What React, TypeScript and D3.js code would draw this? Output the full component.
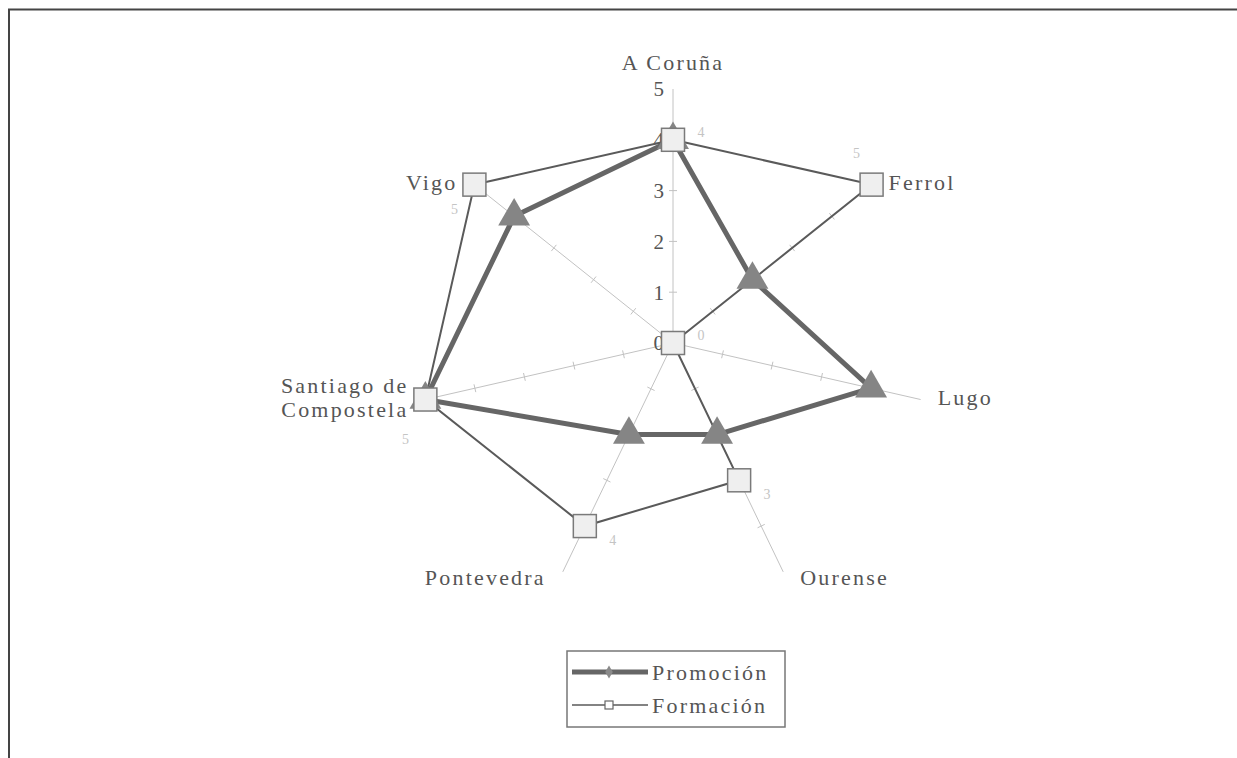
import React, { useEffect, useRef } from 'react';
import * as d3 from 'd3';

const cities = ['A Coruña', 'Ferrol', 'Lugo', 'Ourense', 'Pontevedra', 'Santiago de Compostela', 'Vigo'];
const promocion = [4, 2, 4, 2, 2, 5, 4];
const formacion = [4, 5, 0, 3, 4, 5, 5];
const ticks = [0, 1, 2, 3, 4, 5];
const seriesNames = ['Promoción', 'Formación'];

export default function App() {
  const svgRef = useRef<SVGSVGElement>(null);

  useEffect(() => {
    document.body.style.margin = '0';
    const width = 1237;
    const height = 758;
    const cx = 673;
    const cy = 343;
    const font = '"Liberation Serif", serif';

    const svg = d3.select(svgRef.current);
    svg.selectAll('*').remove();
    svg.attr('width', width).attr('height', height);

    svg.append('rect').attr('width', width).attr('height', height).attr('fill', '#fff');

    // frame: top and left edges only
    svg.append('line').attr('x1', 8).attr('x2', width).attr('y1', 9.5).attr('y2', 9.5)
      .attr('stroke', '#444').attr('stroke-width', 2);
    svg.append('line').attr('x1', 9).attr('x2', 9).attr('y1', 9).attr('y2', height)
      .attr('stroke', '#444').attr('stroke-width', 2);

    const r = d3.scaleLinear().domain([0, 5]).range([0, 254]);
    const step = (2 * Math.PI) / cities.length;
    const px = (i: number, v: number) => r(v) * Math.sin(i * step);
    const py = (i: number, v: number) => -r(v) * Math.cos(i * step);

    const g = svg.append('g').attr('transform', `translate(${cx},${cy})`);

    // axes
    cities.forEach((c, i) => {
      g.append('line')
        .attr('x1', 0).attr('y1', 0)
        .attr('x2', px(i, 5)).attr('y2', py(i, 5))
        .attr('stroke', '#c2c2c2').attr('stroke-width', 1);
      const a = i * step;
      ticks.slice(1, -1).forEach(t => {
        const x = px(i, t), y = py(i, t);
        const nx = Math.cos(a) * 4, ny = Math.sin(a) * 4;
        g.append('line')
          .attr('x1', x - nx).attr('y1', y - ny)
          .attr('x2', x + nx).attr('y2', y + ny)
          .attr('stroke', '#c2c2c2').attr('stroke-width', 1);
      });
    });

    // tick labels on first axis
    g.selectAll('.tick-label')
      .data(ticks)
      .enter()
      .append('text')
      .attr('class', 'tick-label')
      .attr('x', -9)
      .attr('y', d => -r(d))
      .attr('dy', '0.35em')
      .attr('text-anchor', 'end')
      .attr('font-family', font)
      .attr('font-size', 21)
      .attr('fill', '#555')
      .text(d => d);

    // city labels
    cities.forEach((c, i) => {
      const x = px(i, 5), y = py(i, 5);
      const t = g.append('text')
        .attr('font-family', font)
        .attr('font-size', 22)
        .attr('letter-spacing', 2.2)
        .attr('fill', '#555');
      if (i === 0) {
        t.attr('x', x).attr('y', y - 27).attr('text-anchor', 'middle').attr('dy', '0.35em').text(c);
        return;
      }
      const right = x > 0;
      const lx = x + (right ? 17 : -17);
      const ly = y + (y > 100 ? 5 : -2);
      t.attr('text-anchor', right ? 'start' : 'end');
      if (c.includes(' de ')) {
        const parts = c.split(' de ');
        t.append('tspan').attr('x', lx).attr('y', ly - 12).attr('dy', '0.35em').text(parts[0] + ' de');
        t.append('tspan').attr('x', lx).attr('y', ly + 12).attr('dy', '0.35em').text(parts[1]);
      } else {
        t.attr('x', lx).attr('y', ly).attr('dy', '0.35em').text(c);
      }
    });

    const radial = d3.lineRadial<number>()
      .angle((d, i) => i * step)
      .radius(d => r(d))
      .curve(d3.curveLinearClosed);

    g.append('path')
      .attr('d', radial(formacion))
      .attr('fill', 'none')
      .attr('stroke', '#5a5a5a')
      .attr('stroke-width', 2);

    g.append('path')
      .attr('d', radial(promocion))
      .attr('fill', 'none')
      .attr('stroke', '#666')
      .attr('stroke-width', 5)
      .attr('stroke-linejoin', 'round');

    const tri = d3.symbol().type(d3.symbolTriangle).size(440);
    g.selectAll('.tri')
      .data(promocion)
      .enter()
      .append('path')
      .attr('class', 'tri')
      .attr('d', tri)
      .attr('transform', (d, i) => `translate(${px(i, d)},${py(i, d)})`)
      .attr('fill', '#858585');

    g.selectAll('.sq')
      .data(formacion)
      .enter()
      .append('rect')
      .attr('class', 'sq')
      .attr('x', (d, i) => px(i, d) - 11.5)
      .attr('y', (d, i) => py(i, d) - 11.5)
      .attr('width', 23)
      .attr('height', 23)
      .attr('fill', '#efefef')
      .attr('stroke', '#7a7a7a')
      .attr('stroke-width', 1.5);

    // faint value labels for formación
    const valOffset = (i: number, d: number) => {
      const x = px(i, d), y = py(i, d);
      if (d === 5) return x > 0 ? [-15, -32] : [-20, y > 0 ? 40 : 24];
      return [28, y > 0 ? 14 : -8];
    };
    g.selectAll('.val')
      .data(formacion)
      .enter()
      .append('text')
      .attr('class', 'val')
      .attr('x', (d, i) => px(i, d) + valOffset(i, d)[0])
      .attr('y', (d, i) => py(i, d) + valOffset(i, d)[1])
      .attr('text-anchor', 'middle')
      .attr('dy', '0.35em')
      .attr('font-family', font)
      .attr('font-size', 14)
      .attr('fill', '#c4c4c4')
      .text(d => d);

    // legend
    const lg = svg.append('g').attr('transform', 'translate(567,651)');
    lg.append('rect')
      .attr('width', 218).attr('height', 76)
      .attr('fill', '#fff').attr('stroke', '#777').attr('stroke-width', 1.5);
    seriesNames.forEach((name, k) => {
      const y = 21 + k * 33;
      lg.append('line')
        .attr('x1', 5).attr('x2', 81).attr('y1', y).attr('y2', y)
        .attr('stroke', k === 0 ? '#666' : '#5a5a5a')
        .attr('stroke-width', k === 0 ? 5 : 1.5);
      if (k === 0) {
        lg.append('path')
          .attr('d', d3.symbol().type(d3.symbolDiamond).size(50)())
          .attr('transform', `translate(42,${y})`)
          .attr('fill', '#8a8a8a');
      } else {
        lg.append('rect')
          .attr('x', 38).attr('y', y - 4).attr('width', 8).attr('height', 8)
          .attr('fill', '#fff').attr('stroke', '#666').attr('stroke-width', 1.2);
      }
      lg.append('text')
        .attr('x', 85).attr('y', y).attr('dy', '0.35em')
        .attr('font-family', font).attr('font-size', 22)
        .attr('letter-spacing', 2.2)
        .attr('fill', '#555')
        .text(name);
    });
  }, []);

  return (
    <div style={{ position: 'absolute', left: 0, top: 0 }}>
      <svg ref={svgRef} style={{ display: 'block' }}></svg>
    </div>
  );
}
